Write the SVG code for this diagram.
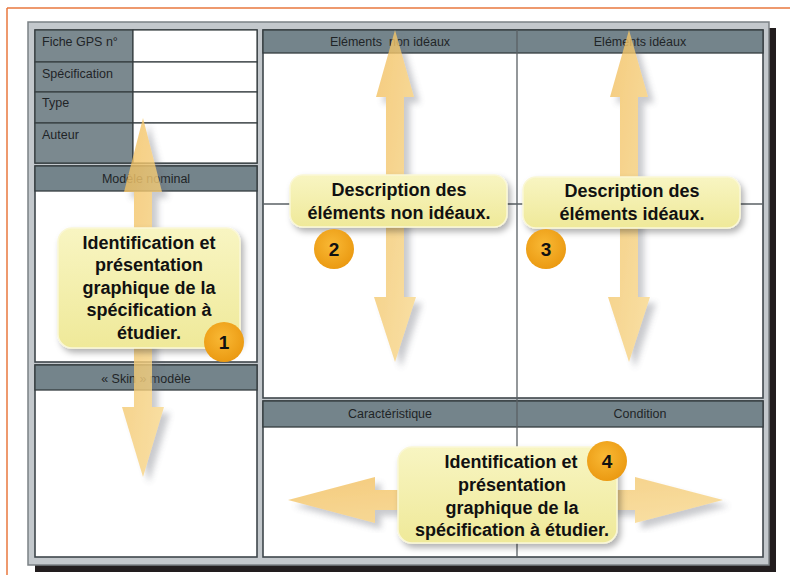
<svg xmlns="http://www.w3.org/2000/svg" width="790" height="575" viewBox="0 0 790 575">
<defs>
<style>
.lbl{font-family:"Liberation Sans",Arial,sans-serif;font-size:12.5px;fill:#1f2427}
.hdr{font-family:"Liberation Sans",Arial,sans-serif;font-size:12.5px;fill:#1f2427;text-anchor:middle}
.panel{fill:#ffffff;stroke:#3f474b;stroke-width:1.6}
.hbar{fill:#74848b;stroke:#353c3f;stroke-width:1.3}
.cell{fill:#7b898f;stroke:#353c3f;stroke-width:1.2}
.vcell{fill:#ffffff;stroke:#353c3f;stroke-width:1.2}
.line{stroke:#5a6064;stroke-width:1.3;fill:none}
.arrow{fill:url(#arrG);opacity:0.8;filter:url(#ash)}
.call{fill:url(#callG);stroke:#faf7d6;stroke-width:1.5;filter:url(#csh)}
.ctxt{font-family:"Liberation Sans",Arial,sans-serif;font-size:18px;font-weight:bold;fill:#111;text-anchor:middle}
.num{fill:url(#numG)}
.ntxt{font-family:"Liberation Sans",Arial,sans-serif;font-size:19px;font-weight:bold;fill:#111;text-anchor:middle}
</style>
<linearGradient id="arrG" x1="0" y1="0" x2="1" y2="1">
<stop offset="0" stop-color="#f2bf5e"/>
<stop offset="1" stop-color="#f8d98f"/>
</linearGradient>
<linearGradient id="callG" x1="0" y1="0" x2="0" y2="1">
<stop offset="0" stop-color="#f8f5c2"/>
<stop offset="1" stop-color="#efe999"/>
</linearGradient>
<radialGradient id="numG" cx="0.45" cy="0.4" r="0.6">
<stop offset="0" stop-color="#f9b935"/>
<stop offset="1" stop-color="#eb9a12"/>
</radialGradient>
<filter id="ash" x="-30%" y="-10%" width="170%" height="130%">
<feDropShadow dx="6" dy="6" stdDeviation="3" flood-color="#6a6f78" flood-opacity="0.45"/>
</filter>
<filter id="csh" x="-10%" y="-10%" width="130%" height="140%">
<feDropShadow dx="3" dy="4" stdDeviation="3" flood-color="#000" flood-opacity="0.3"/>
</filter>
</defs>
<rect x="0" y="0" width="790" height="575" fill="#ffffff"/>
<!-- orange page border -->
<line x1="7" y1="8" x2="790" y2="8" stroke="#e8773e" stroke-width="1.5"/>
<line x1="7" y1="8" x2="7" y2="575" stroke="#e8773e" stroke-width="1.5"/>

<!-- frame -->
<g id="frame">
<rect x="35" y="28" width="741" height="544" fill="#221d1e"/>
<rect x="28" y="22" width="741" height="543" fill="#c3c8cc" stroke="#7b8185" stroke-width="1.5"/>
</g>

<!-- left table -->
<g id="fiche">
<rect class="panel" x="35" y="30" width="222" height="133"/>
<rect class="cell" x="35" y="30" width="98" height="32"/>
<rect class="vcell" x="133" y="30" width="124" height="32"/>
<rect class="cell" x="35" y="62" width="98" height="30"/>
<rect class="vcell" x="133" y="62" width="124" height="30"/>
<rect class="cell" x="35" y="92" width="98" height="31"/>
<rect class="vcell" x="133" y="92" width="124" height="31"/>
<rect class="cell" x="35" y="123" width="98" height="40"/>
<rect class="vcell" x="133" y="123" width="124" height="40"/>
<text class="lbl" x="42" y="46">Fiche GPS n°</text>
<text class="lbl" x="42" y="78">Spécification</text>
<text class="lbl" x="42" y="107">Type</text>
<text class="lbl" x="42" y="139">Auteur</text>
</g>

<g id="modele-nominal">
<rect class="panel" x="35" y="166" width="222" height="196"/>
<rect class="hbar" x="35" y="166" width="222" height="25"/>
<text class="hdr" x="146" y="183">Modèle nominal</text>
</g>

<g id="skin-modele">
<rect class="panel" x="35" y="365" width="222" height="192"/>
<rect class="hbar" x="35" y="365" width="222" height="25"/>
<text class="hdr" x="146" y="383">« Skin » modèle</text>
</g>

<g id="elements">
<rect class="panel" x="263" y="30" width="500" height="368"/>
<rect class="hbar" x="263" y="30" width="500" height="23"/>
<text class="hdr" x="390" y="46" xml:space="preserve">Eléments  non idéaux</text>
<text class="hdr" x="640" y="46">Eléments idéaux</text>
</g>

<g id="caracteristique">
<rect class="panel" x="263" y="401" width="500" height="156"/>
<rect class="hbar" x="263" y="401" width="500" height="26"/>
<text class="hdr" x="390" y="418">Caractéristique</text>
<text class="hdr" x="640" y="418">Condition</text>
</g>

<g id="connectors">
<line class="line" x1="517" y1="30" x2="517" y2="557"/>
<line class="line" x1="263" y1="204" x2="763" y2="204"/>
<polygon class="arrow" points="143,118 162,192 152,192 152,407 164,407 143,477 122,407 134,407 134,192 124,192"/>
<polygon class="arrow" points="395,30 414,97 404,97 404,297 416,297 395,362 374,297 386,297 386,97 376,97"/>
<polygon class="arrow" points="629,30 648,97 638,97 638,297 650,297 629,362 608,297 620,297 620,97 610,97"/>
<polygon class="arrow" points="288,500 375,477 375,490 635,490 635,477 723,500 635,523 635,510 375,510 375,523"/>
</g>

<g id="callout1">
<rect class="call" x="58" y="228" width="182" height="120" rx="14"/>
<text class="ctxt" x="149" y="249">Identification et</text>
<text class="ctxt" x="149" y="271">présentation</text>
<text class="ctxt" x="149" y="294">graphique de la</text>
<text class="ctxt" x="149" y="316">spécification à</text>
<text class="ctxt" x="149" y="339">étudier.</text>
<circle class="num" cx="224" cy="342" r="20"/>
<text class="ntxt" x="224" y="349">1</text>
</g>

<g id="callout2">
<rect class="call" x="290" y="175" width="217" height="52" rx="13"/>
<text class="ctxt" x="399" y="196">Description des</text>
<text class="ctxt" x="399" y="219">éléments non idéaux.</text>
<circle class="num" cx="334" cy="249" r="20"/>
<text class="ntxt" x="334" y="256">2</text>
</g>

<g id="callout3">
<rect class="call" x="523" y="177" width="217" height="51" rx="13"/>
<text class="ctxt" x="632" y="197">Description des</text>
<text class="ctxt" x="632" y="220">éléments idéaux.</text>
<circle class="num" cx="546" cy="249" r="20"/>
<text class="ntxt" x="546" y="256">3</text>
</g>

<g id="callout4">
<rect class="call" x="398" y="447" width="219" height="96" rx="14"/>
<text class="ctxt" x="511" y="468">Identification et</text>
<text class="ctxt" x="512" y="491">présentation</text>
<text class="ctxt" x="512" y="514">graphique de la</text>
<text class="ctxt" x="512" y="536">spécification à étudier.</text>
<circle class="num" cx="607" cy="461" r="20"/>
<text class="ntxt" x="607" y="468">4</text>
</g>
</svg>
